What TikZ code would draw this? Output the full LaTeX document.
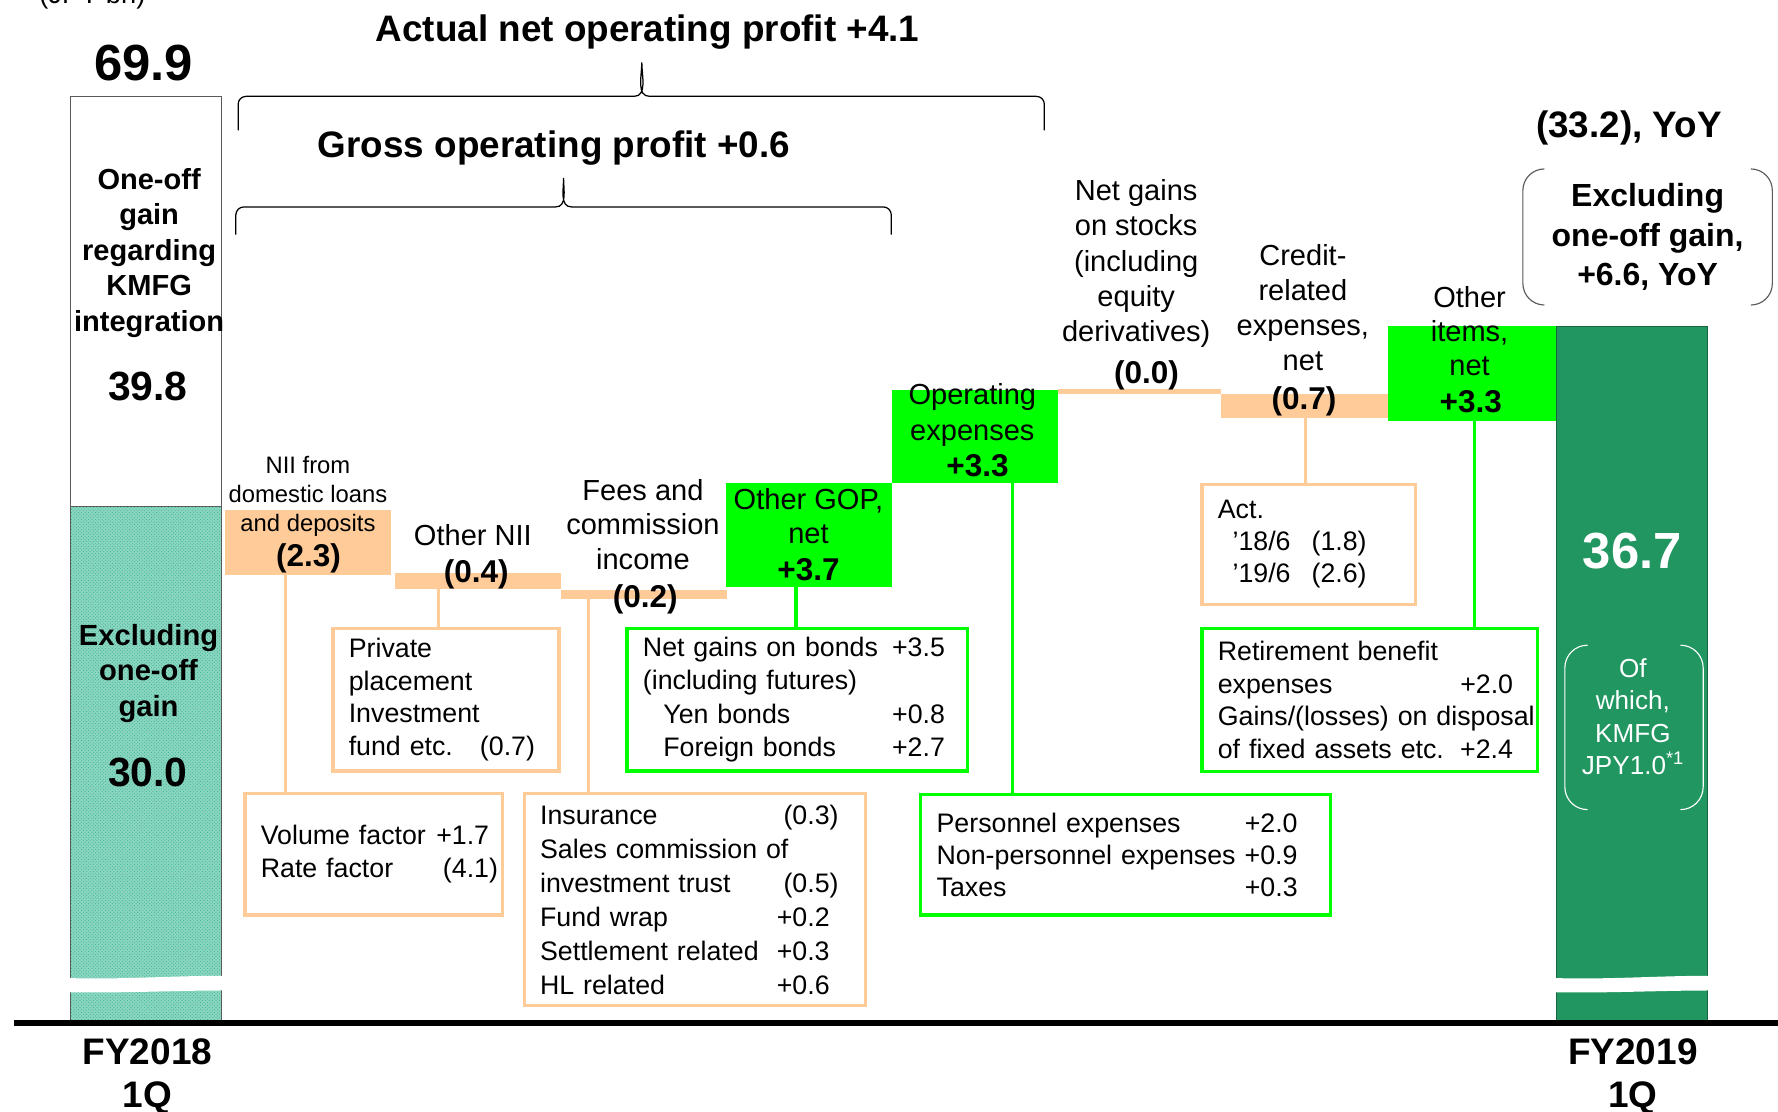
\documentclass[tikz,border=0pt]{standalone}
\usepackage{fontspec}
\setmainfont{Liberation Sans}
\usetikzlibrary{patterns}

\newcommand{\valrow}[4]{\makebox[#1][l]{#2}\makebox[1.3em][r]{#3}.#4}

\tikzset{
  stepbar/.style={rectangle,inner sep=0pt,outer sep=0pt,anchor=south west},
  detailbox/.style={rectangle,line width=2.8pt,inner xsep=14pt,inner ysep=0pt,outer sep=0pt,align=left,font=\fontsize{23.6}{29}\selectfont},
  linktie/.style={line width=2.8pt},
  steplabel/.style={align=center,inner sep=0pt,outer sep=0pt,anchor=north,font=\fontsize{25.6}{31}\selectfont},
  stepvalue/.style={inner sep=0pt,outer sep=0pt,anchor=base,font=\fontsize{27.8}{33}\selectfont\bfseries},
  sidelabel/.style={align=center,inner sep=0pt,outer sep=0pt,anchor=north,font=\fontsize{25.6}{31.25}\selectfont\bfseries},
  yearlabel/.style={align=center,inner sep=0pt,outer sep=0pt,anchor=north,font=\fontsize{32.6}{38}\selectfont\bfseries},
  bignum/.style={inner sep=0pt,outer sep=0pt,anchor=base,font=\fontsize{44.8}{50}\selectfont\bfseries},
  midnum/.style={inner sep=0pt,outer sep=0pt,anchor=base,font=\fontsize{36}{40}\selectfont\bfseries},
  headtext/.style={inner sep=0pt,outer sep=0pt,anchor=base,font=\fontsize{32.5}{38}\selectfont\bfseries},
  bracebar/.style={draw=black,line width=1.1pt},
  notebracket/.style={line width=1pt,rounded corners=19pt}
}

\begin{document}
\begin{tikzpicture}[x=1pt,y=1pt]
\definecolor{peachColor}{RGB}{255,204,153}
\definecolor{limeColor}{RGB}{0,255,0}
\definecolor{barGreen}{RGB}{33,150,96}
\definecolor{barGreenEdge}{RGB}{22,100,64}
\definecolor{hatchFill}{RGB}{140,214,192}
\definecolor{hatchDots}{RGB}{55,180,150}
\definecolor{edgeGray}{RGB}{90,90,90}

\path[use as bounding box,fill=white] (0,0) rectangle (1568,980);

\node[stepbar,fill=white,draw=edgeGray,line width=0.8pt,minimum width=133pt,minimum height=362pt] (fygain) at (62,533) {};

\node[stepbar,fill=hatchFill,draw=edgeGray,line width=0.8pt,minimum width=133pt,minimum height=455pt] (fybase) at (62,78) {};

\path[pattern=crosshatch dots,pattern color=hatchDots] (fybase.south west) rectangle (fybase.north east);

\node[stepbar,fill=peachColor,minimum width=147pt,minimum height=57pt] (niibar) at (198,473) {};

\node[stepbar,fill=peachColor,minimum width=146.5pt,minimum height=14pt] (othniibar) at (348,460.5) {};

\node[stepbar,fill=peachColor,minimum width=146.5pt,minimum height=8pt] (feebar) at (494.5,451.5) {};

\node[stepbar,fill=limeColor,minimum width=146.5pt,minimum height=92pt] (gopbar) at (640.5,462) {};

\node[stepbar,fill=limeColor,minimum width=146.5pt,minimum height=82pt] (opexbar) at (786.5,554) {};

\node[stepbar,fill=peachColor,minimum width=144pt,minimum height=4pt] (stockbar) at (933,632.5) {};

\node[stepbar,fill=peachColor,minimum width=147pt,minimum height=21.5pt] (creditbar) at (1077,611) {};

\node[stepbar,fill=limeColor,minimum width=148pt,minimum height=83.5pt] (itembar) at (1224,609) {};

\node[stepbar,fill=barGreen,draw=barGreenEdge,line width=0.8pt,minimum width=133pt,minimum height=614pt] (fynext) at (1373,78) {};

\path[fill=white] (58,117.5) .. controls (110,116) and (150,119.5) .. (199,119.5) -- (199,106.5) .. controls (150,106.5) and (110,104) .. (58,105) -- cycle;

\path[fill=white] (1369,117.5) .. controls (1420,116) and (1460,119.5) .. (1510,119.5) -- (1510,106.5) .. controls (1460,106.5) and (1420,104) .. (1369,105) -- cycle;

\path[draw=black,line width=5.3pt] (12,78) -- (1572,78);

\path[bracebar] (210,865) -- (210,888) to[out=90,in=180] (217,895) -- (559,895) to[out=0,in=-90] (566,925) to[out=-90,in=180] (573,895) -- (914,895) to[out=0,in=90] (921,888) -- (921,865);

\path[bracebar] (208,773) -- (208,790.5) to[out=90,in=180] (215,797.5) -- (490,797.5) to[out=0,in=-90] (497,823) to[out=-90,in=180] (504,797.5) -- (779,797.5) to[out=0,in=90] (786,790.5) -- (786,773);

\node[detailbox,draw=peachColor,text width=199pt,minimum height=107pt] (volbox) at (329.5,226.5) {\valrow{151pt}{Volume factor}{+1}{7}\\\valrow{151pt}{Rate factor}{(4}{1)}};

\node[detailbox,draw=peachColor,text width=171.4pt,minimum height=126pt] (ppbox) at (393.3,363) {Private\\placement\\Investment\\\valrow{106pt}{fund etc.}{(0}{7)}};

\node[detailbox,draw=peachColor,text width=272.7pt,minimum height=187pt,font=\fontsize{23.6}{30}\selectfont] (feebox) at (612.65,186.5) {\valrow{205pt}{Insurance}{(0}{3)}\\Sales commission of\\\valrow{205pt}{investment trust}{(0}{5)}\\\valrow{205pt}{Fund wrap}{+0}{2}\\\valrow{205pt}{Settlement related}{+0}{3}\\\valrow{205pt}{HL related}{+0}{6}};

\node[detailbox,draw=limeColor,text width=272pt,minimum height=126pt,font=\fontsize{23.6}{29.5}\selectfont] (bondbox) at (703,363) {\valrow{216pt}{Net gains on bonds}{+3}{5}\\(including futures)\\\valrow{216pt}{\hspace*{18pt}Yen bonds}{+0}{8}\\\valrow{216pt}{\hspace*{18pt}Foreign bonds}{+2}{7}};

\node[detailbox,draw=limeColor,text width=333pt,minimum height=106pt,font=\fontsize{23.6}{28}\selectfont] (persbox) at (992.5,226) {\valrow{268pt}{Personnel expenses}{+2}{0}\\\valrow{268pt}{Non-personnel expenses}{+0}{9}\\\valrow{268pt}{Taxes}{+0}{3}};

\node[detailbox,draw=peachColor,text width=160.4pt,minimum height=106pt,font=\fontsize{23.6}{28}\selectfont] (actbox) at (1154.2,500) {Act.\\\valrow{73pt}{\hspace*{13pt}’18/6}{(1}{8)}\\\valrow{73pt}{\hspace*{13pt}’19/6}{(2}{6)}};

\node[detailbox,draw=limeColor,text width=267.7pt,minimum height=126.5pt] (retbox) at (1207.85,362.75) {Retirement benefit\\\valrow{210pt}{expenses}{+2}{0}\\\mbox{Gains/(losses) on disposal}\\\valrow{210pt}{of fixed assets etc.}{+2}{4}};

\coordinate (niitie) at (252,0);

\coordinate (othniitie) at (386.8,0);

\coordinate (feetie) at (518.8,0);

\coordinate (goptie) at (702,0);

\coordinate (opextie) at (893,0);

\coordinate (credittie) at (1151,0);

\coordinate (itemtie) at (1300.5,0);

\path[draw=peachColor,linktie] (niitie |- niibar.south) -- (niitie |- volbox.north);

\path[draw=peachColor,linktie] (othniitie |- othniibar.south) -- (othniitie |- ppbox.north);

\path[draw=peachColor,linktie] (feetie |- feebar.south) -- (feetie |- feebox.north);

\path[draw=limeColor,linktie] (goptie |- gopbar.south) -- (goptie |- bondbox.north);

\path[draw=limeColor,linktie] (opextie |- opexbar.south) -- (opextie |- persbox.north);

\path[draw=peachColor,linktie] (credittie |- creditbar.south) -- (credittie |- actbox.north);

\path[draw=limeColor,linktie] (itemtie |- itembar.south) -- (itemtie |- retbox.north);

\node[steplabel,font=\fontsize{21}{25.5}\selectfont] (niilabel) at (271.6,577.8) {NII from\\domestic loans\\and deposits};

\node[stepvalue] (niival) at (272,480) {(2.3)};

\node[steplabel,anchor=base] (othniilabel) at (417,498.8) {Other NII};

\node[stepvalue] (othniival) at (420,466) {(0.4)};

\node[steplabel,font=\fontsize{25.6}{30.5}\selectfont] (feelabel) at (567,557.5) {Fees and\\commission\\income};

\node[stepvalue] (feeval) at (569,444) {(0.2)};

\node[steplabel,font=\fontsize{25.6}{30}\selectfont] (goplabel) at (713,549.5) {Other GOP,\\net};

\node[stepvalue] (gopval) at (713,468) {+3.7};

\node[steplabel] (opexlabel) at (857.5,641.5) {Operating\\expenses};

\node[stepvalue] (opexval) at (862,560) {+3.3};

\node[steplabel] (stocklabel) at (1002,821.5) {Net gains\\on stocks\\(including\\equity\\derivatives)};

\node[stepvalue] (stockval) at (1011,642) {(0.0)};

\node[steplabel] (creditlabel) at (1149,764.5) {Credit-\\related\\expenses,\\net};

\node[stepvalue] (creditval) at (1150,619) {(0.7)};

\node[steplabel,font=\fontsize{25.6}{30}\selectfont] (itemlabel) at (1296,727.5) {Other\\items,\\net};

\node[stepvalue] (itemval) at (1297,616) {+3.3};

\node[sidelabel] (gainlabel) at (131.5,831.5) {One-off\\gain\\regarding\\KMFG\\integration};

\node[sidelabel,font=\fontsize{25.7}{31.5}\selectfont\bfseries] (baselabel) at (131,429.6) {Excluding\\one-off\\gain};

\node[bignum] (fytotal) at (126.5,909) {69.9};

\node[midnum] (gainval) at (130.5,627) {39.8};

\node[midnum] (baseval) at (130.5,286) {30.0};

\node[yearlabel] (fyprev) at (130,64.1) {FY2018\\1Q};

\node[yearlabel] (fycurr) at (1440,64.1) {FY2019\\1Q};

\node[bignum,text=white] (fyval) at (1439.5,479) {36.7};

\node[headtext] (yoytext) at (1436.5,858.5) {(33.2), YoY};

\node[align=center,inner sep=0pt,outer sep=0pt,minimum width=220pt,minimum height=120pt,font=\fontsize{28.2}{35}\selectfont\bfseries] (exclnote) at (1453,771) {Excluding\\one-off gain,\\+6.6, YoY};

\path[draw=edgeGray,notebracket] ([xshift=19pt]exclnote.north west) -- (exclnote.north west) -- (exclnote.south west) -- ([xshift=19pt]exclnote.south west);

\path[draw=edgeGray,notebracket] ([xshift=-19pt]exclnote.north east) -- (exclnote.north east) -- (exclnote.south east) -- ([xshift=-19pt]exclnote.south east);

\node[inner sep=0pt,outer sep=0pt,minimum width=122pt,minimum height=145pt] (kmfgframe) at (1441,338.5) {};

\path[draw=white,notebracket,rounded corners=20pt] ([xshift=20pt]kmfgframe.north west) -- (kmfgframe.north west) -- (kmfgframe.south west) -- ([xshift=20pt]kmfgframe.south west);

\path[draw=white,notebracket,rounded corners=20pt] ([xshift=-20pt]kmfgframe.north east) -- (kmfgframe.north east) -- (kmfgframe.south east) -- ([xshift=-20pt]kmfgframe.south east);

\node[align=center,inner sep=0pt,outer sep=0pt,anchor=north,text=white,font=\fontsize{23}{28.7}\selectfont] (kmfgtext) at (1440,399.6) {Of\\which,\\KMFG\\JPY1.0\textsuperscript{*1}};

\node[headtext] (actualtext) at (571,943.4) {Actual net operating profit +4.1};

\node[headtext] (grosstext) at (488.5,841.4) {Gross operating profit +0.6};

\node[inner sep=0pt,outer sep=0pt,anchor=base,font=\fontsize{24}{28}\selectfont] (unittext) at (81.5,977) {(JPY bn)};
\end{tikzpicture}
\end{document}
